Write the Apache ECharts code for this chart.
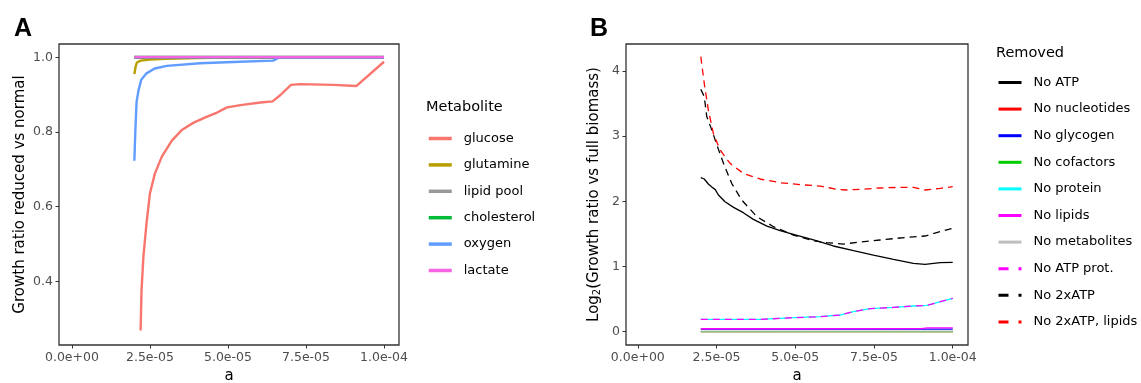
<!DOCTYPE html>
<html><head><meta charset="utf-8">
<script src="https://cdn.jsdelivr.net/npm/echarts@6/dist/echarts.min.js"></script>
<style>html,body{margin:0;padding:0;background:#fff}#c{width:1141px;height:383px}</style>
</head><body><div id="c"></div>
<script>
// ---- tick values / labels ----
const xTickValues = [0, 2.5e-5, 5e-5, 7.5e-5, 1e-4];
const xTickLabels = ['0.0e+00', '2.5e-05', '5.0e-05', '7.5e-05', '1.0e-04'];
const yTickValuesA = [0.4, 0.6, 0.8, 1.0];
const yTickLabelsA = ['0.4', '0.6', '0.8', '1.0'];
const yTickValuesB = [0, 1, 2, 3, 4];
const yTickLabelsB = ['0', '1', '2', '3', '4'];

// ---- panel A: Metabolite ----
const metaboliteNames = ['glucose', 'glutamine', 'lipid pool', 'cholesterol', 'oxygen', 'lactate'];
const glucose = [[22.0e-6,0.268],[22.3e-6,0.377],[22.9e-6,0.466],[23.9e-6,0.556],[25.0e-6,0.636],[26.6e-6,0.689],[28.8e-6,0.734],[32.0e-6,0.777],[35.2e-6,0.805],[39.0e-6,0.825],[43.3e-6,0.841],[46.5e-6,0.852],[49.7e-6,0.866],[54.0e-6,0.872],[60.4e-6,0.879],[64.3e-6,0.882],[66.8e-6,0.899],[70.2e-6,0.926],[73.2e-6,0.928],[83.9e-6,0.926],[91.1e-6,0.923],[100e-6,0.988]];
const glutamine = [[20.0e-6,0.955],[20.4e-6,0.975],[20.8e-6,0.986],[22.0e-6,0.991],[25.0e-6,0.994],[30.0e-6,0.996],[40.0e-6,0.998],[50.0e-6,0.999],[100e-6,1.0]];
const lipidPool = [[20.0e-6,1.0],[100e-6,1.0]];
const cholesterol = [[20.0e-6,1.0],[100e-6,1.0]];
const oxygen = [[20.0e-6,0.723],[20.3e-6,0.80],[20.7e-6,0.88],[21.3e-6,0.91],[22.2e-6,0.94],[23.9e-6,0.957],[26.5e-6,0.970],[30.4e-6,0.977],[41.0e-6,0.984],[53.8e-6,0.988],[64.5e-6,0.991],[66.6e-6,1.0],[100e-6,1.0]];
const lactate = [[20.0e-6,1.0],[100e-6,1.0]];

// ---- panel B: Removed ----
const removedNames = ['No ATP', 'No nucleotides', 'No glycogen', 'No cofactors', 'No protein', 'No lipids', 'No metabolites', 'No ATP prot.', 'No 2xATP', 'No 2xATP, lipids'];
const noATP = [[20.0e-6,2.363],[21.1e-6,2.343],[22.4e-6,2.266],[23.5e-6,2.22],[24.6e-6,2.18],[25.6e-6,2.097],[27.7e-6,1.995],[30.4e-6,1.908],[33.5e-6,1.826],[36.7e-6,1.724],[41.0e-6,1.621],[45.2e-6,1.55],[49.4e-6,1.494],[55.8e-6,1.407],[62.1e-6,1.315],[68.5e-6,1.243],[74.8e-6,1.176],[81.2e-6,1.11],[87.5e-6,1.049],[91.2e-6,1.033],[96.0e-6,1.059],[100e-6,1.064]];
const noNucleotides = [[20.0e-6,0.0],[100e-6,0.0]];
const noGlycogen = [[20.0e-6,0.04],[100e-6,0.04]];
const noCofactors = [[20.0e-6,0.0],[100e-6,0.0]];
const noProtein = [[20.0e-6,0.189],[38.8e-6,0.189],[49.4e-6,0.215],[57.9e-6,0.23],[64.2e-6,0.256],[68.5e-6,0.307],[73.8e-6,0.353],[81.2e-6,0.373],[87.5e-6,0.394],[91.8e-6,0.404],[100e-6,0.512]];
const noLipids = [[20.0e-6,0.045],[90.0e-6,0.048],[92.0e-6,0.058],[100e-6,0.06]];
const noMetabolites = [[20.0e-6,0.01],[100e-6,0.01]];
const noATPprot = [[20.0e-6,0.189],[38.8e-6,0.189],[49.4e-6,0.215],[57.9e-6,0.23],[64.2e-6,0.256],[68.5e-6,0.307],[73.8e-6,0.353],[81.2e-6,0.373],[87.5e-6,0.394],[91.8e-6,0.404],[100e-6,0.512]];
const no2xATP = [[20.0e-6,3.719],[21.1e-6,3.606],[21.9e-6,3.30],[23.5e-6,3.095],[25.1e-6,2.864],[27.2e-6,2.583],[29.8e-6,2.276],[33.0e-6,2.020],[37.8e-6,1.765],[43.1e-6,1.611],[49.4e-6,1.483],[55.8e-6,1.396],[60.0e-6,1.366],[65.3e-6,1.345],[70.6e-6,1.376],[76.9e-6,1.407],[85.4e-6,1.448],[91.2e-6,1.468],[96.0e-6,1.535],[100e-6,1.586]];
const no2xATPlipids = [[20.0e-6,4.22],[21.1e-6,3.81],[22.4e-6,3.40],[24.0e-6,3.04],[26.1e-6,2.79],[29.3e-6,2.583],[33.5e-6,2.43],[38.8e-6,2.343],[45.2e-6,2.286],[51.5e-6,2.256],[57.9e-6,2.235],[63.2e-6,2.184],[66.3e-6,2.174],[70.6e-6,2.184],[76.9e-6,2.205],[83.3e-6,2.215],[87.5e-6,2.215],[91.2e-6,2.174],[96.0e-6,2.2],[100e-6,2.225]];

// ---- styles ----
const FONT = 'DejaVu Sans';
const colorsA = ['#F8766D', '#B79F00', '#999999', '#00BA38', '#619CFF', '#F564E3'];
const widthsA = [2.4, 2.4, 3.6, 2.8, 2.4, 2.5];
const dataA = [glucose, glutamine, lipidPool, cholesterol, oxygen, lactate];
const colorsB = ['#000000', '#FF0000', '#0000FF', '#00CD00', '#00FFFF', '#FF00FF', '#BEBEBE', '#FF00FF', '#000000', '#FF0000'];
const dashedB = [false, false, false, false, false, false, false, true, true, true];
const dataB = [noATP, noNucleotides, noGlycogen, noCofactors, noProtein, noLipids, noMetabolites, noATPprot, no2xATP, no2xATPlipids];

function lookup(values, labels) {
  return function (v) {
    for (let i = 0; i < values.length; i++) {
      if (Math.abs(v - values[i]) < 1e-9 * Math.max(1, Math.abs(values[i])) + 1e-12) return labels[i];
    }
    return '';
  };
}

const tickStyle = { show: true, length: 3.5, lineStyle: { color: '#333333', width: 1 } };
const labelStyle = { color: '#4d4d4d', fontSize: 12.5, fontFamily: FONT };

function xAxis(idx, min, max) {
  return {
    type: 'value', gridIndex: idx, min: min, max: max,
    axisLine: { show: false, onZero: false }, splitLine: { show: false },
    axisTick: Object.assign({ customValues: xTickValues }, tickStyle),
    axisLabel: Object.assign({ customValues: xTickValues, formatter: lookup(xTickValues, xTickLabels), margin: 6 }, labelStyle),
    name: 'a', nameLocation: 'middle', nameGap: 24,
    nameTextStyle: { color: '#000', fontSize: 15, fontFamily: FONT }
  };
}

const series = [];
metaboliteNames.forEach((n, i) => {
  series.push({
    name: n, type: 'line', xAxisIndex: 0, yAxisIndex: 0, data: dataA[i],
    symbol: 'none', showSymbol: false, smooth: false, animation: false,
    lineStyle: { color: colorsA[i], width: widthsA[i] }, itemStyle: { color: colorsA[i] }
  });
});
removedNames.forEach((n, i) => {
  series.push({
    name: n, type: 'line', xAxisIndex: 1, yAxisIndex: 1, data: dataB[i],
    symbol: 'none', showSymbol: false, smooth: false, animation: false,
    lineStyle: { color: colorsB[i], width: 1.3, type: dashedB[i] ? [7, 5] : 'solid' }, itemStyle: { color: colorsB[i] }
  });
});

const option = {
  backgroundColor: '#ffffff',
  animation: false,
  title: [
    { text: 'A', left: 14, top: 17, padding: 0, textStyle: { fontFamily: 'Liberation Sans', fontWeight: 'bold', fontSize: 25, color: '#000' } },
    { text: 'B', left: 590, top: 17, padding: 0, textStyle: { fontFamily: 'Liberation Sans', fontWeight: 'bold', fontSize: 25, color: '#000' } },
    { text: 'Metabolite', left: 426, top: 100, padding: 0, textStyle: { fontFamily: FONT, fontWeight: 'normal', fontSize: 14.5, color: '#000' } },
    { text: 'Removed', left: 996, top: 46, padding: 0, textStyle: { fontFamily: FONT, fontWeight: 'normal', fontSize: 14.5, color: '#000' } }
  ],
  grid: [
    { left: 59, top: 44, width: 340, height: 301, show: true, borderColor: '#333333', borderWidth: 1.3, backgroundColor: 'transparent', containLabel: false, outerBoundsMode: 'none' },
    { left: 626, top: 44, width: 342, height: 301, show: true, borderColor: '#333333', borderWidth: 1.3, backgroundColor: 'transparent', containLabel: false, outerBoundsMode: 'none' }
  ],
  xAxis: [xAxis(0, -4.15e-6, 104.8e-6), xAxis(1, -3.75e-6, 104.85e-6)],
  yAxis: [
    {
      type: 'value', gridIndex: 0, min: 0.2294, max: 1.0356,
      axisLine: { show: false, onZero: false }, splitLine: { show: false },
      axisTick: Object.assign({ customValues: yTickValuesA }, tickStyle),
      axisLabel: Object.assign({ customValues: yTickValuesA, formatter: lookup(yTickValuesA, yTickLabelsA), margin: 6 }, labelStyle),
      name: 'Growth ratio reduced vs normal', nameLocation: 'middle', nameGap: 31,
      nameTextStyle: { color: '#000', fontSize: 15, fontFamily: FONT }
    },
    {
      type: 'value', gridIndex: 1, min: -0.204, max: 4.414,
      axisLine: { show: false, onZero: false }, splitLine: { show: false },
      axisTick: Object.assign({ customValues: yTickValuesB }, tickStyle),
      axisLabel: Object.assign({ customValues: yTickValuesB, formatter: lookup(yTickValuesB, yTickLabelsB), margin: 6 }, labelStyle),
      name: 'Log{sub|2}(Growth ratio vs full biomass)', nameLocation: 'middle', nameGap: 24,
      nameTextStyle: { color: '#000', fontSize: 15, fontFamily: FONT,
        rich: { sub: { fontSize: 10, fontFamily: FONT, color: '#000', verticalAlign: 'bottom', padding: [4, 0, 0, 0] } } }
    }
  ],
  legend: [
    {
      orient: 'vertical', left: 427, top: 132, padding: 0,
      itemWidth: 23, itemHeight: 14, itemGap: 13.4,
      data: metaboliteNames.slice(),
      lineStyle: { width: 3.5 },
      itemStyle: { opacity: 0 },
      textStyle: { fontFamily: FONT, fontSize: 13, color: '#000', padding: [0, 0, 0, 7] },
      selectedMode: false
    },
    {
      orient: 'vertical', left: 997, top: 76, padding: 0,
      itemWidth: 23, itemHeight: 14, itemGap: 13.6,
      data: removedNames.map((n, i) => ({ name: n, lineStyle: { width: 3, type: dashedB[i] ? [10, 10] : 'solid' } })),
      lineStyle: { width: 3 },
      itemStyle: { opacity: 0 },
      textStyle: { fontFamily: FONT, fontSize: 13, color: '#000', padding: [0, 0, 0, 7] },
      selectedMode: false
    }
  ],
  series: series
};

const chart = echarts.init(document.getElementById('c'), null, { renderer: 'canvas' });
chart.setOption(option);
</script>
</body></html>
